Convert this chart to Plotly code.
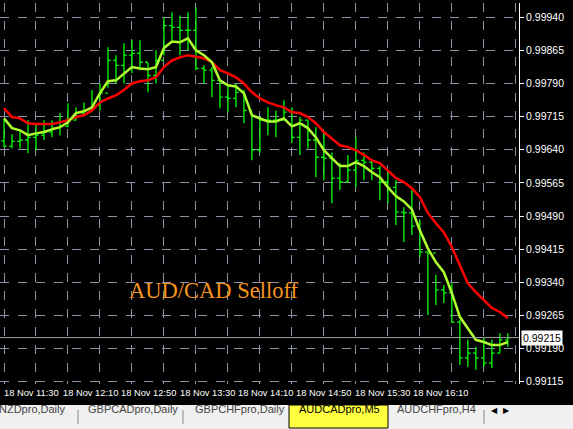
import plotly.graph_objects as go

# ----- data (5-min bars)
high = [0.99707, 0.99675, 0.99684, 0.99707, 0.99696, 0.99707, 0.99707, 0.99723, 0.99745, 0.99736,
        0.99747, 0.99775, 0.99790, 0.99872, 0.99854, 0.99881, 0.99888, 0.99888, 0.99836, 0.99865,
        0.99940, 0.99951, 0.99944, 0.99951, 0.99962, 0.99831, 0.99827, 0.99797, 0.99786, 0.99790,
        0.99775, 0.99723, 0.99714, 0.99736, 0.99729, 0.99752, 0.99736, 0.99714, 0.99707, 0.99691,
        0.99677, 0.99634, 0.99610, 0.99628, 0.99668, 0.99634, 0.99612, 0.99603, 0.99589, 0.99571,
        0.99510, 0.99549, 0.99481, 0.99409, 0.99357, 0.99334, 0.99338, 0.99255, 0.99210, 0.99194,
        0.99216, 0.99210, 0.99225, 0.99225]
low = [0.99646, 0.99643, 0.99643, 0.99632, 0.99639, 0.99662, 0.99668, 0.99673, 0.99691, 0.99707,
       0.99718, 0.99725, 0.99729, 0.99781, 0.99790, 0.99790, 0.99813, 0.99820, 0.99770, 0.99790,
       0.99854, 0.99888, 0.99854, 0.99865, 0.99820, 0.99790, 0.99759, 0.99734, 0.99725, 0.99736,
       0.99700, 0.99616, 0.99634, 0.99673, 0.99668, 0.99707, 0.99655, 0.99628, 0.99643, 0.99578,
       0.99571, 0.99519, 0.99549, 0.99567, 0.99555, 0.99571, 0.99571, 0.99526, 0.99519, 0.99470,
       0.99431, 0.99447, 0.99397, 0.99266, 0.99289, 0.99293, 0.99248, 0.99153, 0.99149, 0.99142,
       0.99149, 0.99146, 0.99180, 0.99194]
close = [0.99648, 0.99659, 0.99662, 0.99668, 0.99673, 0.99680, 0.99689, 0.99693, 0.99707, 0.99723,
         0.99729, 0.99741, 0.99768, 0.99842, 0.99831, 0.99854, 0.99858, 0.99838, 0.99808, 0.99842,
         0.99921, 0.99917, 0.99910, 0.99910, 0.99824, 0.99820, 0.99797, 0.99759, 0.99756, 0.99770,
         0.99729, 0.99639, 0.99707, 0.99707, 0.99707, 0.99725, 0.99668, 0.99707, 0.99662, 0.99623,
         0.99621, 0.99576, 0.99567, 0.99594, 0.99616, 0.99612, 0.99598, 0.99567, 0.99555, 0.99499,
         0.99497, 0.99467, 0.99409, 0.99406, 0.99323, 0.99316, 0.99250, 0.99169, 0.99180, 0.99169,
         0.99158, 0.99180, 0.99210, 0.99215]
open_ = [0.99660] + close[:-1]

ma_fast = [0.99711, 0.99689, 0.99684, 0.99673, 0.99677, 0.99680, 0.99686, 0.99691, 0.99702, 0.99723,
           0.99727, 0.99736, 0.99768, 0.99795, 0.99797, 0.99813, 0.99827, 0.99824, 0.99822, 0.99827,
           0.99870, 0.99885, 0.99883, 0.99892, 0.99865, 0.99854, 0.99838, 0.99797, 0.99786, 0.99783,
           0.99768, 0.99718, 0.99711, 0.99704, 0.99704, 0.99711, 0.99693, 0.99700, 0.99689, 0.99668,
           0.99639, 0.99621, 0.99603, 0.99603, 0.99612, 0.99603, 0.99589, 0.99578, 0.99555, 0.99535,
           0.99523, 0.99505, 0.99458, 0.99417, 0.99386, 0.99363, 0.99316, 0.99262, 0.99237, 0.99210,
           0.99205, 0.99198, 0.99198, 0.99205]
ma_slow = [0.99734, 0.99714, 0.99711, 0.99700, 0.99698, 0.99698, 0.99698, 0.99702, 0.99707, 0.99714,
           0.99718, 0.99729, 0.99747, 0.99756, 0.99763, 0.99775, 0.99790, 0.99795, 0.99797, 0.99804,
           0.99827, 0.99842, 0.99849, 0.99854, 0.99851, 0.99847, 0.99838, 0.99820, 0.99813, 0.99804,
           0.99790, 0.99770, 0.99756, 0.99747, 0.99741, 0.99736, 0.99725, 0.99723, 0.99714, 0.99700,
           0.99680, 0.99666, 0.99650, 0.99646, 0.99639, 0.99628, 0.99616, 0.99610, 0.99594, 0.99576,
           0.99567, 0.99553, 0.99533, 0.99497, 0.99474, 0.99453, 0.99420, 0.99377, 0.99338, 0.99318,
           0.99300, 0.99282, 0.99273, 0.99259]

time_labels = ['18 Nov 11:30', '18 Nov 12:10', '18 Nov 12:50', '18 Nov 13:30',
               '18 Nov 14:10', '18 Nov 14:50', '18 Nov 15:30', '18 Nov 16:10']
price_ticks = [0.99115, 0.99190, 0.99265, 0.99340, 0.99415, 0.99490, 0.99565,
               0.99640, 0.99715, 0.99790, 0.99865, 0.99940]
last_price = 0.99215
tabs = ['NZDpro,Daily', 'GBPCADpro,Daily', 'GBPCHFpro,Daily', 'AUDCADpro,M5', 'AUDCHFpro,H4']

x = list(range(len(close)))

# pixel helpers for layout (plot area is x 0..519, y 3..384)
def px(v):
    return v / 519

def py(v):
    return (384 - v) / 381

FONT = 'Liberation Sans'

fig = go.Figure()
fig.add_trace(go.Ohlc(x=x, open=open_, high=high, low=low, close=close,
                      increasing_line_color='#00ff00', decreasing_line_color='#00ff00',
                      line_width=1.3, tickwidth=0.35, hoverinfo='skip'))
fig.add_trace(go.Scatter(x=x, y=ma_slow, mode='lines', line=dict(color='#ff0000', width=2.5)))
fig.add_trace(go.Scatter(x=x, y=ma_fast, mode='lines', line=dict(color='#adff2f', width=2.5)))

grid = dict(showgrid=True, gridcolor='#8a94a6', griddash='dash', gridwidth=1, zeroline=False)
fig.update_layout(
    width=573, height=429, showlegend=False,
    margin=dict(l=0, r=54, t=3, b=45),
    paper_bgcolor='black', plot_bgcolor='black',
    xaxis=dict(range=[-0.5, 64.4], dtick=4, tick0=0, showticklabels=False,
               rangeslider=dict(visible=False), **grid),
    yaxis=dict(range=[0.99110, 0.99972], side='right', tickvals=price_ticks,
               ticktext=[f'{p:.5f}' for p in price_ticks],
               tickfont=dict(family=FONT, size=10.5, color='white'),
               ticks='outside', ticklen=4, tickcolor='white',
               showline=True, linecolor='white', linewidth=1, **grid),
)

# current price line + label
fig.add_shape(type='line', xref='paper', yref='y', x0=0, x1=1, y0=last_price, y1=last_price,
              line=dict(color='#a0a0a0', width=1))
fig.add_annotation(xref='paper', yref='y', x=1.004, y=last_price, xanchor='left',
                   text=f'{last_price:.5f}', showarrow=False, bgcolor='white',
                   font=dict(family=FONT, size=10.5, color='black'), borderpad=1)

# time labels (left aligned at tick like the terminal)
for i, lab in enumerate(time_labels):
    fig.add_annotation(xref='x', yref='paper', x=i * 7.3 - 0.2, y=py(393), xanchor='left',
                       yanchor='middle', text=lab, showarrow=False,
                       font=dict(family=FONT, size=9.3, color='white'))

# title text
fig.add_annotation(xref='paper', yref='paper', x=px(127), y=py(305), xanchor='left',
                   text='AUD/CAD Selloff', showarrow=False,
                   font=dict(family='Liberation Serif', size=22.5, color='#f7941d'))

# tab strip
fig.add_shape(type='rect', xref='paper', yref='paper', x0=0, x1=px(573), y0=py(429), y1=py(405),
              fillcolor='#f0f0f0', line_width=0, layer='above')
fig.add_shape(type='rect', xref='paper', yref='paper', x0=px(289), x1=px(388), y0=py(428), y1=py(405),
              fillcolor='#ffff40', line=dict(color='black', width=1), layer='above')
tab_x = [-3, 86, 193, 297, 395]
for tx, lab in zip(tab_x, tabs):
    fig.add_annotation(xref='paper', yref='paper', x=px(tx), y=py(417), xanchor='left',
                       text=lab, showarrow=False,
                       font=dict(family=FONT, size=11,
                                 color='black' if lab.startswith('AUDCADpro') else '#444'))
for sx in [78, 183, 484]:
    fig.add_shape(type='line', xref='paper', yref='paper', x0=px(sx), x1=px(sx),
                  y0=py(424), y1=py(410), line=dict(color='#888', width=1), layer='above')
fig.add_annotation(xref='paper', yref='paper', x=px(500), y=py(417), text='◀', showarrow=False,
                   font=dict(size=8, color='black'))
fig.add_annotation(xref='paper', yref='paper', x=px(512), y=py(417), text='▶', showarrow=False,
                   font=dict(size=8, color='black'))

# drop the page's default body margin so the figure sits at the window's corner
fig.write_html("out.html", config={'displayModeBar': False},
               post_script="document.body.style.margin='0';")
